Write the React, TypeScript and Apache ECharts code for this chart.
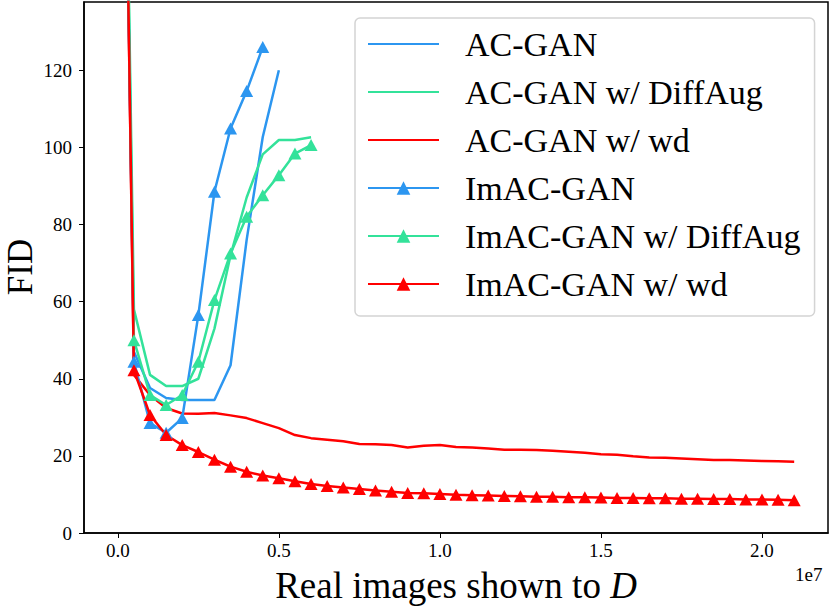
import React, { useEffect, useRef } from "react";
import * as echarts from "echarts";

// x positions, in millions of real images shown to D
const xStepsMillion = [
  0, 0.5, 1, 1.5, 2, 2.5, 3, 3.5, 4, 4.5, 5, 5.5, 6, 6.5, 7, 7.5, 8, 8.5, 9, 9.5,
  10, 10.5, 11, 11.5, 12, 12.5, 13, 13.5, 14, 14.5, 15, 15.5, 16, 16.5, 17, 17.5,
  18, 18.5, 19, 19.5, 20, 20.5, 21,
];

const acGan = [320, 47, 37.6, 35, 34.5, 34.5, 34.5, 43.5, 76, 102.7, 120];
const acGanDiffAug = [320, 58, 41, 38.1, 38.1, 40, 53, 72, 87, 98.2, 101.9, 101.9, 102.6];
const acGanWd = [
  320, 41, 35.8, 32.4, 31.0, 30.9, 31.1, 30.5, 29.8, 28.5, 27.2, 25.4, 24.6, 24.2,
  23.8, 23.1, 23.0, 22.8, 22.2, 22.6, 22.8, 22.3, 22.2, 21.9, 21.6, 21.6, 21.5,
  21.3, 21.1, 20.8, 20.4, 20.3, 19.9, 19.6, 19.5, 19.3, 19.1, 18.9, 18.9, 18.8,
  18.7, 18.6, 18.5,
];
const imAcGan = [320, 44.4, 28.5, 26, 29.8, 56.5, 88.5, 104.9, 114.6, 126];
const imAcGanDiffAug = [320, 50, 35.8, 33.2, 35.8, 44.4, 60.4, 72.5, 82, 87.6, 92.8, 98.4, 100.6];
const imAcGanWd = [
  320, 42.2, 30.6, 25.4, 22.8, 21.0, 19.0, 17.2, 15.9, 14.9, 14.2, 13.4, 12.7, 12.2,
  11.8, 11.4, 11.0, 10.7, 10.4, 10.3, 10.1, 9.9, 9.8, 9.7, 9.6, 9.5, 9.4, 9.4, 9.3,
  9.3, 9.2, 9.1, 9.1, 9.0, 9.0, 8.9, 8.9, 8.8, 8.8, 8.7, 8.7, 8.6, 8.5,
];

const seriesNames = [
  "AC-GAN",
  "AC-GAN w/ DiffAug",
  "AC-GAN w/ wd",
  "ImAC-GAN",
  "ImAC-GAN w/ DiffAug",
  "ImAC-GAN w/ wd",
];

const yTicks = [0, 20, 40, 60, 80, 100, 120];
const xTicks = [0, 5000000, 10000000, 15000000, 20000000];

const BLUE = "#2c96f0";
const GREEN = "#33e29a";
const RED = "#ff0000";
const SERIF = "'Liberation Serif', 'DejaVu Serif', serif";

function toPairs(vals: number[]) {
  return vals.map((v, i) => [xStepsMillion[i] * 1e6, v]);
}

export default function App() {
  const ref = useRef<HTMLDivElement>(null);
  useEffect(() => {
    if (!ref.current) return;
    document.body.style.margin = "0";
    const chart = echarts.init(ref.current, null, { renderer: "svg" });
    const lineSeries = (name: string, vals: number[], color: string, marker: boolean) => ({
      name,
      type: "line",
      data: toPairs(vals),
      symbol: marker ? "triangle" : "none",
      symbolSize: [13, 12],
      showSymbol: marker,
      clip: true,
      lineStyle: { color, width: 2.5 },
      itemStyle: { color },
      emphasis: { disabled: true },
      z: 2,
    });
    chart.setOption({
      animation: false,
      backgroundColor: "#ffffff",
      textStyle: { fontFamily: SERIF },
      grid: {
        left: 84,
        right: 3,
        top: 2,
        bottom: 75,
        show: true,
        borderColor: "#000",
        borderWidth: 1.5,
        backgroundColor: "transparent",
        outerBoundsMode: "none",
      },
      xAxis: {
        type: "value",
        min: -1050000,
        max: 22050000,
        splitLine: { show: false },
        axisLine: { onZero: false, lineStyle: { color: "#000", width: 1.5 } },
        axisTick: { show: true, length: 5, lineStyle: { color: "#000", width: 1 }, customValues: xTicks },
        axisLabel: {
          customValues: xTicks,
          formatter: (v: number) => (v / 1e7).toFixed(1),
          fontFamily: SERIF,
          fontSize: 19,
          color: "#000",
          margin: 8,
        },
        name: "{n|Real images shown to }{i|D}",
        nameLocation: "middle",
        nameGap: 34,
        nameTextStyle: {
          color: "#000",
          fontFamily: SERIF,
          fontSize: 37,
          rich: {
            n: { fontFamily: SERIF, fontSize: 37, color: "#000" },
            i: { fontFamily: SERIF, fontSize: 37, fontStyle: "italic", color: "#000" },
          },
        },
      },
      yAxis: {
        type: "value",
        min: 0,
        max: 137.7,
        splitLine: { show: false },
        axisLine: { onZero: false, lineStyle: { color: "#000", width: 1.5 } },
        axisTick: { show: true, length: 5, lineStyle: { color: "#000", width: 1 }, customValues: yTicks },
        axisLabel: {
          customValues: yTicks,
          fontFamily: SERIF,
          fontSize: 19,
          color: "#000",
          margin: 12,
        },
      },
      legend: {
        orient: "vertical",
        left: 355,
        top: 18,
        padding: [6, 14, 12, 12],
        itemGap: 8,
        itemWidth: 71,
        itemHeight: 17,
        backgroundColor: "#ffffff",
        borderColor: "#d4d4d4",
        borderWidth: 1.5,
        borderRadius: 5,
        selectedMode: false,
        textStyle: {
          fontFamily: SERIF,
          fontSize: 34,
          lineHeight: 40,
          color: "#000",
          padding: [0, 0, 0, 21],
        },
        data: [
          { name: seriesNames[0], itemStyle: { opacity: 0 } },
          { name: seriesNames[1], itemStyle: { opacity: 0 } },
          { name: seriesNames[2], itemStyle: { opacity: 0 } },
          { name: seriesNames[3] },
          { name: seriesNames[4] },
          { name: seriesNames[5] },
        ],
      },
      graphic: [
        {
          type: "text",
          x: 20,
          y: 267,
          rotation: Math.PI / 2,
          style: {
            text: "FID",
            fontFamily: SERIF,
            fontSize: 35,
            fill: "#000",
            align: "center",
            verticalAlign: "middle",
          },
        },
        {
          type: "text",
          left: 795,
          top: 565,
          style: { text: "1e7", fontFamily: SERIF, fontSize: 19, fill: "#000" },
        },
      ],
      series: [
        lineSeries(seriesNames[0], acGan, BLUE, false),
        lineSeries(seriesNames[1], acGanDiffAug, GREEN, false),
        lineSeries(seriesNames[2], acGanWd, RED, false),
        lineSeries(seriesNames[3], imAcGan, BLUE, true),
        lineSeries(seriesNames[4], imAcGanDiffAug, GREEN, true),
        lineSeries(seriesNames[5], imAcGanWd, RED, true),
      ],
    });
    return () => chart.dispose();
  }, []);
  return <div ref={ref} style={{ width: 831, height: 608 }} />;
}
